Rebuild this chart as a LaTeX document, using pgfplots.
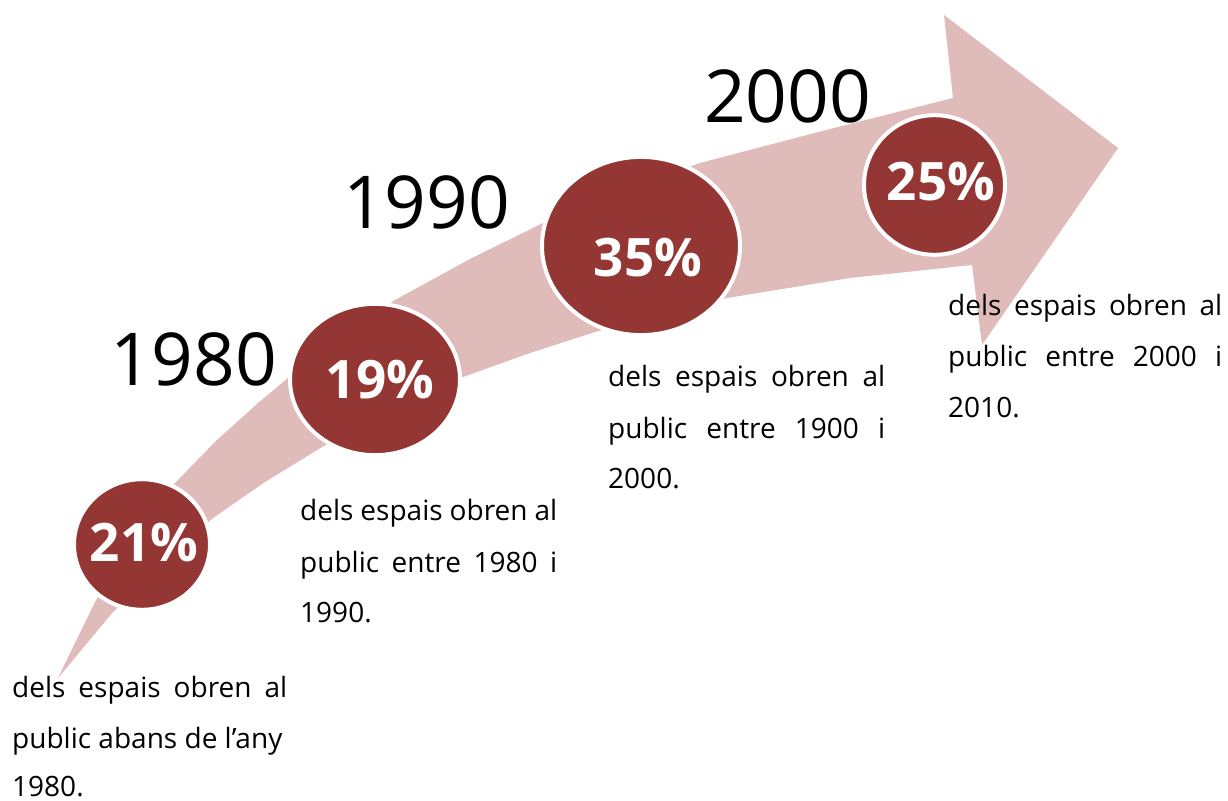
\documentclass[border=0pt]{standalone}
\usepackage{fontspec}
\setmainfont{Open Sans}
\usepackage{pgfplots}
\pgfplotsset{compat=1.18}
\definecolor{arrowpink}{RGB}{223,187,186}
\definecolor{circred}{RGB}{148,54,52}
\newcommand{\bodyfont}{\fontsize{28bp}{32bp}\selectfont}
\newcommand{\yearfont}{\fontsize{73bp}{80bp}\selectfont}
\newcommand{\pctfont}{\fontsize{53bp}{58bp}\selectfont\bfseries}
\newcommand{\jline}[4]{\node[anchor=base west, inner sep=0pt, font=\bodyfont] at (axis cs:#1,#2) {\makebox[#3bp][s]{#4}};}
\newcommand{\pline}[3]{\node[anchor=base west, inner sep=0pt, font=\bodyfont] at (axis cs:#1,#2) {#3};}
\begin{document}
\begin{tikzpicture}
\begin{axis}[scale only axis, width=1228bp, height=801bp,
  xmin=0, xmax=1228, ymin=0, ymax=801, y dir=reverse,
  hide axis, clip=false]
\path (rel axis cs:0,0) rectangle (rel axis cs:1,1);
% arrow
\addplot[fill=arrowpink, draw=none] coordinates {
(58,678) (95,602) (150,510) (178,480) (217,440) (258,403) (300,368) (350,332)
(395,300) (470,259) (545,222) (620,192) (700,163) (830,129) (953,98)
(944,15) (1118,148) (982,345) (972,265)
(850,278) (727,298) (660,315) (595,332) (530,353) (463,377) (390,410)
(322,447) (265,482) (213,518) (160,565) (113,612)} -- cycle;
% circles
\addplot[only marks, mark=*, mark size=68bp, mark options={fill=circred, draw=white, line width=4bp, yscale=0.96}] coordinates {(142,544.5)};
\addplot[only marks, mark=*, mark size=85bp, mark options={fill=circred, draw=white, line width=4bp, yscale=0.89}] coordinates {(375,379.5)};
\addplot[only marks, mark=*, mark size=99bp, mark options={fill=circred, draw=white, line width=4bp, yscale=0.90}] coordinates {(641,246)};
\addplot[only marks, mark=*, mark size=70.5bp, mark options={fill=circred, draw=white, line width=4bp, yscale=0.99}] coordinates {(934.5,185)};
% percentages
\addplot[only marks, mark=*, mark size=0pt, mark options={draw=none, fill=none},
  point meta=explicit symbolic, nodes near coords,
  nodes near coords style={anchor=center, inner sep=0pt, text=white, font=\pctfont}]
  coordinates {(144,543) [21\%] (380,380) [19\%] (648,258) [35\%] (941,182) [25\%]};
% years
\node[anchor=base west, inner sep=0pt, font=\yearfont] at (axis cs:110,385) {1980};
\node[anchor=base west, inner sep=0pt, font=\yearfont] at (axis cs:343,228) {1990};
\node[anchor=base west, inner sep=0pt, font=\yearfont] at (axis cs:704,123) {2000};
% texts
\jline{12}{697}{275}{dels espais obren al}
\pline{12}{748}{public abans de l’any}
\pline{12}{796}{1980.}
\jline{300}{520}{257}{dels espais obren al}
\jline{300}{572}{257}{public entre 1980 i}
\pline{300}{622}{1990.}
\jline{608}{386}{277}{dels espais obren al}
\jline{608}{438}{277}{public entre 1900 i}
\pline{608}{488}{2000.}
\jline{948}{315}{274}{dels espais obren al}
\jline{948}{366}{274}{public entre 2000 i}
\pline{948}{417}{2010.}
\end{axis}
\end{tikzpicture}
\end{document}
